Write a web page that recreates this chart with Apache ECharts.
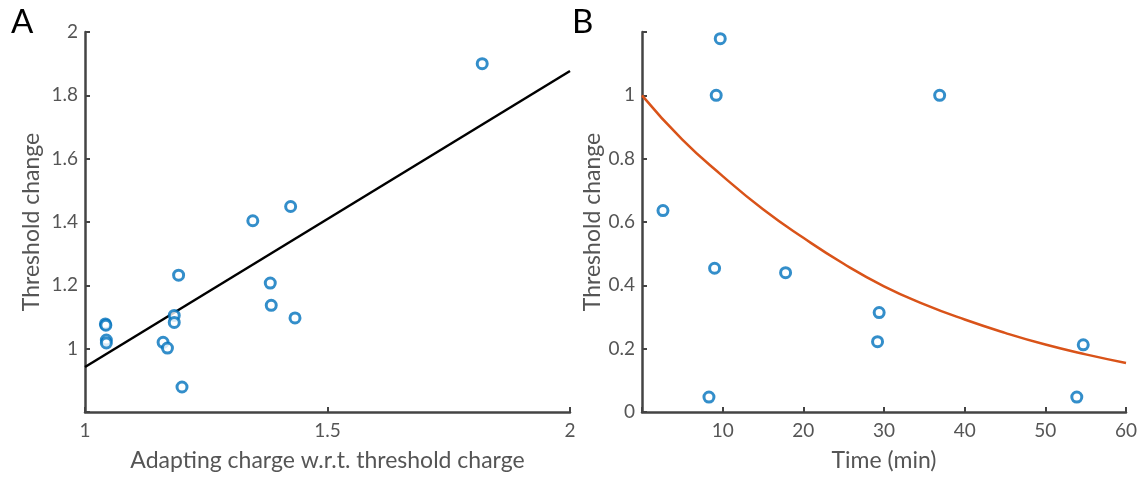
<!DOCTYPE html>
<html>
<head>
<meta charset="utf-8">
<script src="https://cdn.jsdelivr.net/npm/echarts@6/dist/echarts.min.js"></script>
<style>
  html, body { margin: 0; padding: 0; background: #fff; }
  #chart { width: 1143px; height: 477px; }
</style>
</head>
<body>
<div id="chart"></div>
<script>
// panel A: adapting charge vs threshold change
const chargeX = [1.819, 1.424, 1.346, 1.193, 1.382, 1.384, 1.433, 1.184, 1.184, 1.042, 1.043, 1.044, 1.044, 1.161, 1.170, 1.200];
const chargeY = [1.900, 1.449, 1.404, 1.232, 1.207, 1.137, 1.097, 1.105, 1.083, 1.078, 1.074, 1.027, 1.018, 1.020, 1.002, 0.879];
// fitted line, read at both ends
const fitX = [1, 2];
const fitY = [0.942, 1.877];

// panel B: time vs threshold change
const timeX = [9.7, 9.2, 36.9, 2.6, 9.0, 17.8, 29.4, 29.2, 54.7, 8.3, 53.9];
const timeY = [1.179, 1.0, 1.0, 0.636, 0.454, 0.440, 0.314, 0.222, 0.212, 0.047, 0.047];
// decay curve, read every 5 min
const curveT = [0, 5, 10, 15, 20, 25, 30, 35, 40, 45, 50, 55, 60];
const curveY = [1.0, 0.86, 0.745, 0.64, 0.55, 0.468, 0.397, 0.34, 0.292, 0.25, 0.213, 0.182, 0.155];

const pairs = (xs, ys) => xs.map((x, i) => [x, ys[i]]);

const axisCol = '#444';
const textCol = '#555';
const font = 'Lato, "Noto Sans", sans-serif';

function axis(opts) {
  return Object.assign({
    type: 'value',
    nameLocation: 'middle',
    nameTextStyle: { color: textCol, fontSize: 23, fontFamily: font },
    axisLine: { show: true, onZero: false, lineStyle: { color: axisCol, width: 2.5 } },
    axisTick: { show: true, inside: true, length: 5, lineStyle: { color: axisCol, width: 2 } },
    splitLine: { show: false }
  }, opts);
}

const myChart = echarts.init(document.getElementById('chart'));
const option = {
  animation: false,
  backgroundColor: '#fff',
  graphic: [
    { type: 'text', left: 11, top: 6, style: { text: 'A', fontSize: 33, fontFamily: font, fill: '#000' } },
    { type: 'text', left: 572, top: 6, style: { text: 'B', fontSize: 33, fontFamily: font, fill: '#000' } }
  ],
  grid: [
    { left: 85, top: 32, width: 485, height: 380 },
    { left: 642, top: 32, width: 484, height: 380 }
  ],
  xAxis: [
    axis({
      gridIndex: 0, min: 1, max: 2, interval: 0.5,
      name: 'Adapting charge w.r.t. threshold charge', nameGap: 37,
      axisLabel: { color: textCol, fontSize: 19, fontFamily: font, margin: 9 }
    }),
    axis({
      gridIndex: 1, min: 0, max: 60, interval: 10,
      name: 'Time (min)', nameGap: 37,
      axisLabel: { color: textCol, fontSize: 19, fontFamily: font, margin: 9,
        formatter: v => (v === 0 ? '' : String(v)) }
    })
  ],
  yAxis: [
    axis({
      gridIndex: 0, min: 0.8, max: 2, interval: 0.2,
      name: 'Threshold change', nameGap: 42,
      axisLabel: { color: textCol, fontSize: 19, fontFamily: font, margin: 7,
        formatter: v => (v < 0.85 ? '' : String(Math.round(v * 10) / 10)) }
    }),
    axis({
      gridIndex: 1, min: 0, max: 1.2, interval: 0.2,
      name: 'Threshold change', nameGap: 36,
      axisLabel: { color: textCol, fontSize: 19, fontFamily: font, margin: 7,
        formatter: v => (v > 1.1 ? '' : String(Math.round(v * 10) / 10)) }
    })
  ],
  series: [
    {
      type: 'line', xAxisIndex: 0, yAxisIndex: 0,
      data: pairs(fitX, fitY), showSymbol: false,
      lineStyle: { color: '#000', width: 2.5 }, z: 2
    },
    {
      type: 'scatter', xAxisIndex: 0, yAxisIndex: 0,
      data: pairs(chargeX, chargeY), symbol: 'circle', symbolSize: 10,
      itemStyle: { color: '#fff', borderColor: '#0072BD', borderWidth: 3 }, z: 3
    },
    {
      type: 'line', xAxisIndex: 1, yAxisIndex: 1,
      data: pairs(curveT, curveY), showSymbol: false, smooth: true,
      lineStyle: { color: '#D95319', width: 2.5 }, z: 2
    },
    {
      type: 'scatter', xAxisIndex: 1, yAxisIndex: 1,
      data: pairs(timeX, timeY), symbol: 'circle', symbolSize: 10,
      itemStyle: { color: '#fff', borderColor: '#0072BD', borderWidth: 3 }, z: 3
    }
  ]
};
myChart.setOption(option, true);
</script>
</body>
</html>
